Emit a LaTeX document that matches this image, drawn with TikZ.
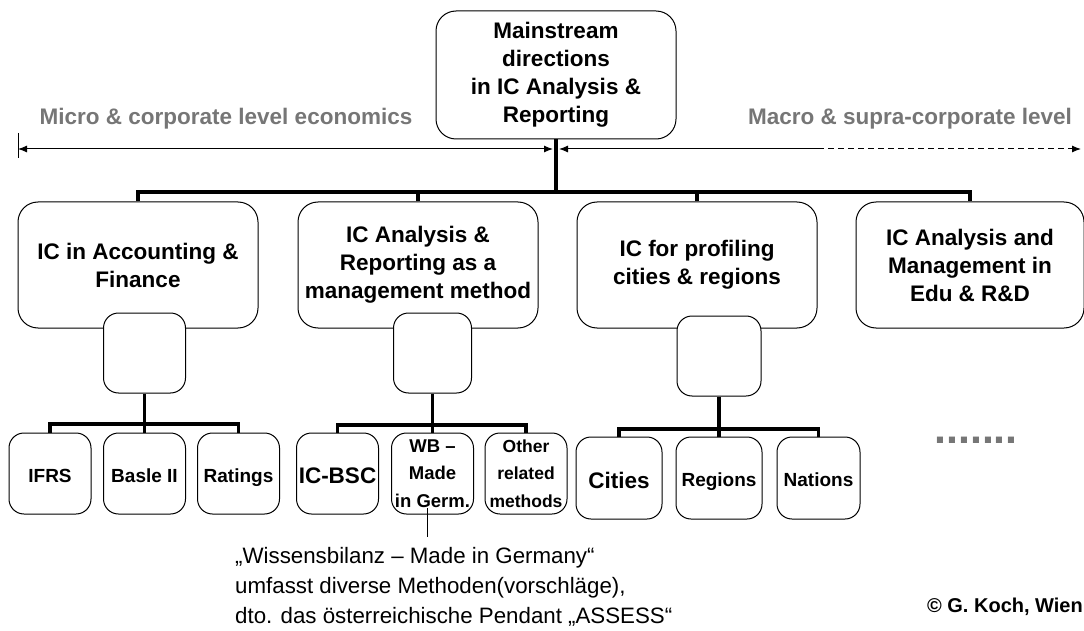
\documentclass[tikz,border=0pt]{standalone}
\usepackage{fontspec}
\setmainfont{Liberation Sans}
\usetikzlibrary{arrows.meta}
\definecolor{levelgray}{RGB}{118,118,118}
\tikzset{
  thinline/.style={line width=1pt},
  conn/.style={line width=3.5pt},
  mainbox/.style={draw, line width=1pt, rounded corners=20pt, fill=white,
    minimum width=240pt, minimum height=128pt, inner sep=1pt, align=center,
    font=\bfseries\fontsize{22.5}{28}\selectfont},
  catbox/.style={mainbox, minimum height=126pt},
  hubbox/.style={draw, line width=1pt, rounded corners=15pt, fill=white,
    minimum width=82pt, minimum height=80pt},
  leafbox/.style={draw, line width=1pt, rounded corners=15pt, fill=white,
    minimum width=82pt, minimum height=81pt, inner sep=1pt, align=center,
    font=\bfseries\fontsize{19}{27.5}\selectfont},
  oneline/.style={text height=17pt, text depth=0pt},
  bigleaf/.style={text height=20pt, text depth=0pt,
    font=\bfseries\fontsize{22.5}{27}\selectfont},
  levellabel/.style={text=levelgray, inner sep=0pt,
    font=\bfseries\fontsize{22.5}{27}\selectfont},
  note/.style={inner xsep=0pt, inner ysep=10pt, align=left,
    font=\fontsize{22.3}{30}\selectfont}
}
\begin{document}
\begin{tikzpicture}[x=1pt, y=-1pt, >={Latex[length=9pt,width=7pt]}]
  \useasboundingbox (0,0) rectangle (1084,631);
  % Kopf und Ebenen
  \node[mainbox] (main) at (556,75) {Mainstream\\directions\\in IC Analysis \&\\Reporting};
  \node[levellabel] (micro) at (226,119) {Micro \& corporate level economics};
  \node[levellabel] (macro) at (910,119) {Macro \& supra-corporate level};
  \coordinate (axL) at (18,149);
  \coordinate (axM) at (553,149);
  \coordinate (axN) at (559,149);
  \coordinate (axD) at (818,149);
  \coordinate (axR) at (1081,149);
  \draw[thinline] (18,133) -- (18,158);
  \draw[thinline, <->] (axL) -- (axM);
  \draw[thinline, <-] (axN) -- (axD);
  \draw[thinline, dash pattern=on 6pt off 4pt, ->] (axD) -- (axR);
  % Hauptrichtungen
  \node[catbox] (acc) at (138,265) {IC in Accounting \&\\Finance};
  \node[catbox] (mgmt) at (418,265) {IC Analysis \&\\Reporting as a\\management method};
  \node[catbox] (city) at (697,265) {IC for profiling\\cities \& regions};
  \node[catbox, minimum width=228pt] (edu) at (970,265) {IC Analysis and\\Management in\\Edu \& R\&D};
  \coordinate (bar) at (0,192);
  \draw[conn] (main.south) -- (main.south |- bar);
  \draw[conn] (acc.north) -- (acc.north |- bar) -- (edu.north |- bar) -- (edu.north);
  \foreach \n in {mgmt, city}
    \draw[conn] (\n.north) -- (\n.north |- bar);
  % Verteiler
  \node[hubbox] (accHub) at (144.5,353) {};
  \node[hubbox, minimum width=78pt] (mgmtHub) at (432.5,353) {};
  \node[hubbox, minimum width=84pt] (cityHub) at (719,356) {};
  % Accounting & Finance
  \node[leafbox, oneline] (ifrs) at (50,473.5) {IFRS};
  \node[leafbox, oneline] (basle) at (144.5,473.5) {Basle II};
  \node[leafbox, oneline] (rating) at (238.5,473.5) {Ratings};
  \coordinate (barA) at (0,424);
  \draw[conn] (accHub.south) -- (basle.north);
  \draw[conn] (ifrs.north) -- (ifrs.north |- barA) -- (rating.north |- barA) -- (rating.north);
  % Management
  \node[leafbox, bigleaf] (bsc) at (337.5,473.5) {IC-BSC};
  \node[leafbox, font=\bfseries\fontsize{18.5}{27.5}\selectfont] (wb) at (432.5,473.5) {WB –\\Made\\in Germ.};
  \node[leafbox, font=\bfseries\fontsize{17.5}{27.5}\selectfont] (other) at (526,473.5) {Other\\related\\methods};
  \coordinate (barB) at (0,425);
  \draw[conn] (mgmtHub.south) -- (wb.north);
  \draw[conn] (bsc.north) -- (bsc.north |- barB) -- (other.north |- barB) -- (other.north);
  % Staedte & Regionen
  \node[leafbox, bigleaf, minimum width=86pt, minimum height=82pt] (cities) at (619,478) {Cities};
  \node[leafbox, oneline, minimum width=86pt, minimum height=82pt] (regions) at (719,478) {Regions};
  \node[leafbox, oneline, minimum width=83pt, minimum height=82pt] (nations) at (818.5,478) {Nations};
  \coordinate (barC) at (0,429);
  \draw[conn] (cityHub.south) -- (regions.north);
  \draw[conn] (cities.north) -- (cities.north |- barC) -- (nations.north |- barC) -- (nations.north);
  \node[text=levelgray, anchor=base, inner sep=0pt, font=\bfseries\fontsize{43}{43}\selectfont] (more) at (976,443) {.......};
  % Anmerkung
  \node[note, anchor=north west] (wbnote) at (235,537) {„Wissensbilanz – Made in Germany“\\umfasst diverse Methoden(vorschläge),\\dto. das österreichische Pendant „ASSESS“};
  \coordinate (wbFoot) at (427,508);
  \draw[thinline] (wbFoot) -- (wbFoot |- wbnote.north);
  \node[anchor=east, inner sep=0pt, font=\bfseries\fontsize{20}{24}\selectfont] (copy) at (1083,607) {© G. Koch, Wien};
\end{tikzpicture}
\end{document}
